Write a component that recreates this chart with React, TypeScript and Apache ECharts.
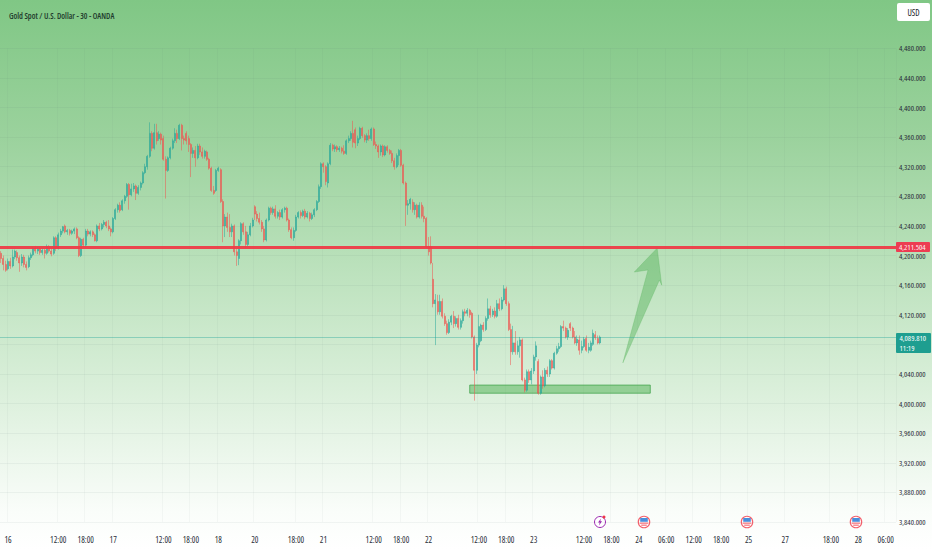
import React, { useEffect, useRef } from "react";
import * as echarts from "echarts";

type Bar = [number, number, number, number]; // open, close, low, high

const sessionDec16: Bar[] = [
  [4203,4196,4190,4206],[4196,4188,4180,4200],[4188,4180,4178,4193],[4182,4192,4180,4196],[4192,4186,4182,4197],
  [4186,4198,4184,4208],[4198,4206,4195,4208],[4204,4197,4193,4207],[4197,4190,4178,4200],[4190,4198,4186,4202],
  [4198,4188,4184,4201],[4188,4184,4180,4192],[4185,4197,4183,4200],[4197,4201,4194,4204],[4201,4210,4199,4212],
  [4210,4206,4203,4213],[4206,4209,4202,4212],[4209,4204,4201,4211],[4204,4207,4201,4210],[4207,4203,4196,4209],
  [4203,4212,4201,4215],[4212,4206,4204,4214],[4206,4202,4199,4209],[4203,4224,4201,4226],[4224,4210,4206,4226],
  [4210,4228,4208,4231],[4228,4233,4225,4236],[4233,4239,4230,4240],[4240,4232,4230,4242],[4232,4234,4228,4236],
  [4234,4230,4227,4236],[4230,4233,4228,4235],[4233,4236,4229,4238],[4236,4224,4222,4238],[4224,4200,4198,4226],
  [4200,4222,4198,4224],[4222,4214,4212,4224],[4214,4233,4212,4236],[4233,4229,4226,4236],[4229,4232,4226,4234],
  [4232,4228,4225,4234],[4228,4220,4219,4230],[4220,4240,4218,4242],[4240,4236,4233,4244],[4236,4242,4234,4244],
  [4242,4245,4238,4248],[4245,4240,4237,4247],[4240,4236,4233,4248],[4236,4232,4226,4238],
];
const sessionDec17: Bar[] = [
  [4232,4250,4230,4252],[4250,4262,4248,4264],[4262,4268,4258,4270],[4268,4261,4258,4272],[4262,4274,4260,4276],
  [4274,4280,4270,4282],[4280,4296,4278,4298],[4296,4282,4262,4298],[4282,4290,4280,4297],[4290,4294,4286,4298],
  [4294,4284,4275,4296],[4284,4292,4282,4295],[4292,4298,4288,4300],[4298,4312,4296,4314],[4312,4320,4310,4324],
  [4320,4334,4316,4336],[4334,4365,4332,4380],[4365,4345,4341,4368],[4345,4366,4343,4378],[4366,4355,4350,4378],
  [4358,4364,4355,4368],[4364,4356,4350,4366],[4358,4330,4328,4362],[4330,4315,4277,4334],[4315,4332,4313,4334],
  [4332,4345,4330,4347],[4345,4355,4343,4358],[4355,4365,4352,4372],[4365,4358,4352,4370],[4358,4376,4356,4378],
  [4376,4358,4342,4378],[4358,4356,4350,4362],[4365,4355,4350,4368],[4358,4350,4340,4362],[4350,4338,4306,4352],
  [4338,4342,4332,4346],[4342,4332,4320,4348],[4332,4348,4330,4351],[4348,4340,4336,4351],[4340,4334,4331,4346],
  [4334,4341,4331,4343],[4340,4330,4328,4342],[4330,4318,4316,4332],[4318,4288,4286,4320],[4288,4284,4282,4294],
  [4288,4315,4286,4317],
];
const sessionDec18: Bar[] = [
  [4315,4318,4313,4320],[4316,4273,4271,4318],[4273,4240,4218,4276],[4240,4252,4225,4256],[4252,4238,4232,4258],
  [4238,4232,4225,4256],[4232,4240,4225,4243],[4240,4205,4200,4242],[4205,4200,4186,4210],[4196,4220,4187,4222],
  [4220,4243,4215,4245],[4243,4232,4228,4245],[4232,4215,4210,4240],[4215,4228,4212,4232],[4228,4240,4226,4244],
  [4240,4248,4238,4251],
];
const sessionDec20: Bar[] = [
  [4266,4256,4248,4268],[4256,4250,4246,4260],[4250,4245,4242,4258],[4245,4236,4232,4248],[4236,4221,4218,4240],
  [4221,4248,4219,4250],[4248,4264,4246,4266],[4264,4258,4255,4266],[4258,4263,4255,4266],[4263,4253,4250,4268],
  [4253,4258,4250,4260],[4258,4252,4248,4262],[4252,4262,4250,4264],[4262,4264,4258,4266],[4264,4248,4246,4266],
  [4248,4235,4232,4250],[4235,4224,4222,4238],[4224,4234,4220,4238],[4234,4252,4232,4255],[4252,4258,4250,4260],
  [4258,4254,4250,4261],[4254,4260,4252,4262],[4260,4252,4249,4263],[4252,4257,4250,4260],[4257,4250,4246,4259],
  [4250,4255,4248,4258],[4255,4262,4252,4264],[4262,4273,4260,4275],[4273,4293,4271,4296],[4293,4324,4290,4326],
];
const sessionDec21: Bar[] = [
  [4324,4320,4312,4326],[4320,4300,4295,4322],[4298,4324,4292,4326],[4324,4349,4322,4352],[4349,4344,4341,4351],
  [4344,4347,4340,4350],[4347,4343,4340,4349],[4343,4345,4340,4348],[4345,4341,4338,4347],[4341,4338,4336,4349],
  [4338,4355,4336,4357],[4355,4358,4352,4362],[4358,4365,4355,4368],[4365,4353,4346,4382],[4370,4352,4345,4373],
  [4352,4358,4348,4362],[4358,4372,4356,4374],[4372,4362,4359,4374],[4362,4356,4353,4364],[4356,4362,4352,4365],
  [4362,4358,4355,4370],[4358,4371,4355,4373],[4371,4350,4348,4373],[4350,4348,4344,4354],[4348,4340,4332,4350],
  [4340,4348,4335,4350],[4348,4336,4333,4350],[4336,4347,4334,4349],[4347,4342,4339,4349],[4342,4338,4336,4344],
  [4338,4328,4325,4342],[4328,4320,4316,4332],[4320,4335,4318,4338],[4335,4342,4322,4344],[4342,4322,4320,4344],
  [4322,4298,4296,4324],[4298,4268,4240,4300],[4268,4270,4255,4275],[4270,4276,4262,4278],[4272,4262,4258,4276],
  [4262,4268,4255,4272],[4268,4252,4250,4270],[4252,4268,4250,4272],[4268,4253,4250,4272],[4253,4250,4245,4266],
  [4250,4212,4210,4252],
];
const sessionDec22: Bar[] = [
  [4212,4205,4200,4225],[4212,4190,4188,4226],[4168,4135,4130,4190],[4135,4140,4079,4148],[4138,4124,4120,4147],
  [4124,4138,4120,4147],[4138,4118,4115,4142],[4118,4108,4105,4122],[4108,4096,4093,4112],[4096,4110,4094,4114],
  [4110,4118,4106,4120],[4118,4108,4102,4125],[4108,4115,4104,4118],[4115,4103,4100,4120],[4103,4112,4100,4115],
  [4112,4124,4108,4127],[4124,4122,4118,4128],[4122,4126,4118,4129],[4126,4120,4116,4128],[4122,4090,4088,4124],
  [4090,4045,4004,4092],[4045,4079,4040,4082],[4079,4104,4076,4120],[4085,4106,4083,4108],[4106,4100,4097,4110],
  [4100,4115,4098,4118],[4115,4128,4112,4142],[4128,4120,4116,4132],[4120,4125,4117,4128],[4125,4118,4115,4130],
  [4118,4135,4116,4140],[4135,4128,4125,4142],[4128,4140,4126,4144],[4140,4155,4138,4160],[4155,4135,4132,4158],
  [4135,4100,4098,4138],[4100,4070,4052,4108],[4070,4082,4066,4105],[4082,4070,4066,4098],[4070,4078,4066,4085],
  [4078,4086,4062,4090],[4086,4032,4030,4088],[4032,4018,4015,4035],[4018,4043,4016,4046],[4043,4032,4028,4046],
  [4032,4044,4026,4048],
];
const sessionDec23: Bar[] = [
  [4044,4063,4040,4066],[4063,4078,4058,4084],[4057,4014,4012,4060],[4014,4036,4012,4038],[4036,4024,4020,4045],
  [4024,4045,4022,4048],[4045,4040,4036,4050],[4040,4058,4036,4060],[4058,4048,4046,4060],[4048,4068,4046,4070],
  [4068,4074,4066,4078],[4074,4077,4070,4082],[4077,4104,4075,4106],[4104,4102,4098,4112],[4102,4090,4088,4104],
  [4090,4099,4086,4102],[4108,4102,4098,4110],[4102,4090,4088,4104],[4090,4082,4080,4098],[4082,4087,4078,4092],
  [4086,4072,4066,4092],[4072,4077,4068,4085],[4077,4087,4075,4090],[4088,4072,4070,4092],[4072,4076,4068,4082],
  [4072,4082,4070,4085],[4080,4095,4078,4100],[4093,4089,4086,4098],[4088,4082,4080,4092],[4082,4089.81,4080,4092],
];

const tickLabels: Record<number, string> = {
  3: "16", 25: "12:00", 37: "18:00", 49: "17", 71: "12:00", 83: "18:00", 95: "18", 111: "20", 129: "18:00",
  141: "21", 163: "12:00", 175: "18:00", 187: "22", 209: "12:00", 221: "18:00", 233: "23", 255: "12:00",
  267: "18:00", 279: "24", 291: "06:00", 303: "12:00", 315: "18:00", 327: "25", 343: "27", 363: "18:00",
  375: "28", 387: "06:00",
};
const barSlots = 392;
const resistance = 4211.504;
const lastPrice = 4089.81;
const hiddenPriceTick = 4080; // covered by the last-price tag in the reference
const supportZone = { from: 205, to: 284, top: 4025, bottom: 4014 };
const arrowOutline: [number, number][] = [
  [272, 4055], [282.6, 4180.5], [277.3, 4177.7], [287.4, 4210], [289.1, 4160], [287.8, 4167],
];
const eventFlags = [644, 747, 856];

const FONT = "'Open Sans', 'Liberation Sans', sans-serif";

function flagIcon(cx: number, cy: number) {
  return {
    type: "group", x: cx, y: cy, silent: true,
    children: [
      { type: "circle", shape: { cx: 0, cy: 0, r: 5.7 }, style: { fill: "#fff", stroke: "#f4606c", lineWidth: 1.2 } },
      { type: "rect", shape: { x: -3.8, y: -4, width: 7.6, height: 3.8 }, style: { fill: "#4a8fdc" } },
      { type: "rect", shape: { x: -4.2, y: 0.6, width: 8.4, height: 1.1 }, style: { fill: "#f4606c" } },
      { type: "rect", shape: { x: -2.8, y: 2.6, width: 5.6, height: 1.1 }, style: { fill: "#f4606c" } },
    ],
  };
}

export default function App() {
  const ref = useRef<HTMLDivElement>(null);
  useEffect(() => {
    const chart = echarts.init(ref.current!, undefined, { renderer: "svg" });
    const bars = [
      ...sessionDec16, ...sessionDec17, ...sessionDec18, ...sessionDec20,
      ...sessionDec21, ...sessionDec22, ...sessionDec23,
    ];
    const categories = Array.from({ length: barSlots }, (_, i) => String(i));
    const isTick = (i: number) => tickLabels[i] !== undefined;
    chart.setOption({
      animation: false,
      backgroundColor: {
        type: "linear", x: 0, y: 0, x2: 0, y2: 1,
        colorStops: [
          { offset: 0, color: "#80c785" },
          { offset: 0.25, color: "#9bd29d" },
          { offset: 0.45, color: "#b6dfb7" },
          { offset: 0.72, color: "#dcf0dc" },
          { offset: 0.93, color: "#fafdfa" },
          { offset: 1, color: "#ffffff" },
        ],
      },
      title: {
        text: "Gold Spot / U.S. Dollar - 30 - OANDA",
        left: 4, top: 6,
        textStyle: { fontFamily: FONT, fontSize: 8.1, fontWeight: 600, color: "#1e3a2c" },
      },
      grid: { left: 0, right: 36, top: 48.3, bottom: 28, outerBoundsMode: "none" },
      xAxis: {
        type: "category",
        data: categories,
        axisLine: { show: false },
        axisTick: { show: false },
        axisLabel: {
          interval: (i: number) => isTick(i),
          formatter: (_: string, i: number) => tickLabels[i] ?? "",
          margin: 13, fontFamily: FONT, fontSize: 8.5, color: "#2a2e39",
        },
        splitLine: {
          show: true,
          interval: (i: number) => isTick(i),
          lineStyle: { color: "rgba(90,110,110,0.05)", width: 1 },
        },
      },
      yAxis: {
        type: "value", position: "right", min: 3840, max: 4480, interval: 40,
        axisLine: { show: false },
        axisTick: { show: false },
        axisLabel: {
          margin: 3, fontFamily: FONT, fontSize: 7.8, color: "#2a2e39",
          formatter: (v: number) => v === hiddenPriceTick ? "" : v.toLocaleString("en-US", { minimumFractionDigits: 3 }),
        },
        splitLine: { show: true, lineStyle: { color: "rgba(90,110,110,0.07)", width: 1 } },
      },
      series: [
        {
          type: "candlestick",
          data: bars,
          barWidth: 1.5,
          clip: false,
          itemStyle: {
            color: "#26a69a", color0: "#ef5350",
            borderColor: "#26a69a", borderColor0: "#ef5350", borderWidth: 0.6, opacity: 0.85,
          },
          markLine: {
            silent: true, symbol: "none", precision: 3,
            data: [
              {
                yAxis: resistance,
                lineStyle: { color: "#ee3b47", width: 3, type: "solid", opacity: 0.95 },
                label: {
                  show: true, position: "end", distance: 0, formatter: "4,211.504",
                  backgroundColor: "#f0344d", color: "#fff",
                  fontFamily: FONT, fontSize: 7.8, padding: [1, 2, 1, 3], width: 29, borderRadius: 1,
                },
              },
              {
                yAxis: lastPrice,
                lineStyle: { color: "rgba(38,166,154,0.4)", width: 1, type: "solid" },
                label: {
                  show: true, position: "end", distance: 0, formatter: "4,089.810\n11:19",
                  backgroundColor: "#1e9e90", color: "#fff", offset: [0, 6],
                  fontFamily: FONT, fontSize: 7.8, lineHeight: 10, padding: [0, 2, 0, 3.5], width: 29.5, borderRadius: 1,
                },
              },
            ],
          },
          markArea: {
            silent: true,
            itemStyle: { color: "rgba(76,175,80,0.5)", borderColor: "rgba(60,160,70,0.7)", borderWidth: 1 },
            data: [[
              { xAxis: String(supportZone.from), yAxis: supportZone.top },
              { xAxis: String(supportZone.to), yAxis: supportZone.bottom },
            ]],
          },
        },
        {
          type: "custom",
          silent: true,
          data: arrowOutline,
          encode: { x: 0, y: 1 },
          renderItem: (params: any, api: any) => {
            if (params.dataIndex !== 0) return null;
            return {
              type: "polygon",
              shape: { points: arrowOutline.map((p) => api.coord(p)) },
              style: { fill: "rgba(76,175,80,0.42)", stroke: "rgba(76,175,80,0.25)", lineWidth: 1 },
            };
          },
        },
      ],
      graphic: [
        {
          type: "group", x: 897, y: 3, silent: true,
          children: [
            { type: "rect", shape: { x: 0, y: 0, width: 33, height: 18, r: 2 }, style: { fill: "#ffffff" } },
            { type: "text", x: 16.5, y: 9, style: { text: "USD", fontFamily: FONT, fontSize: 8.5, fill: "#131722", align: "center", verticalAlign: "middle" } },
          ],
        },
        {
          type: "group", x: 600, y: 522, silent: true,
          children: [
            { type: "circle", shape: { cx: 0, cy: 0, r: 5.5 }, style: { fill: "#ffffff", stroke: "#9c27b0", lineWidth: 1 } },
            { type: "polygon", shape: { points: [[1, -3.5], [-2, 0.6], [-0.3, 0.6], [-1, 3.5], [2, -0.8], [0.3, -0.8]] }, style: { fill: "#9c27b0" } },
            { type: "circle", shape: { cx: 4, cy: -5, r: 1.5 }, style: { fill: "#f23645" } },
          ],
        },
        ...eventFlags.map((x) => flagIcon(x, 522)),
      ],
    });
    return () => chart.dispose();
  }, []);
  return (
    <div>
      <style>{`#root svg text { font-stretch: 75% !important; }`}</style>
      <div ref={ref} style={{ position: "fixed", left: 0, top: 0, width: 932, height: 550 }} />
    </div>
  );
}
